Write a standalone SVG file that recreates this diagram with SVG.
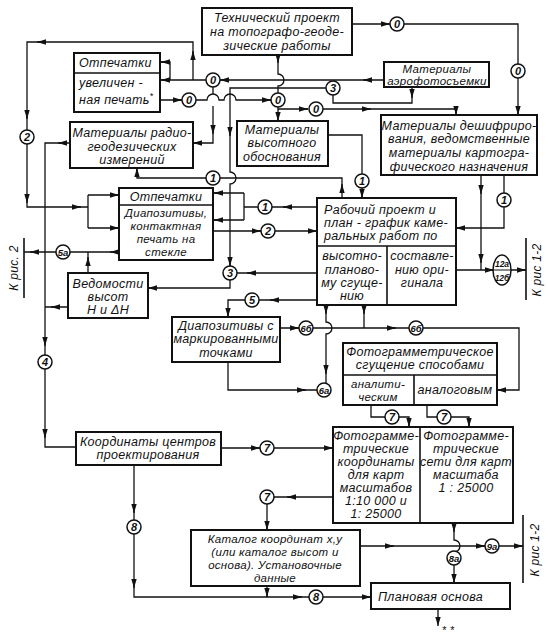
<svg xmlns="http://www.w3.org/2000/svg" width="548" height="641" viewBox="0 0 548 641">
<defs>
<marker id="a" viewBox="0 0 10 6" refX="10" refY="3" markerWidth="9" markerHeight="6" markerUnits="userSpaceOnUse" orient="auto"><path d="M0,0 L10,3 L0,6 z" fill="#111"/></marker>
<style>
.b{fill:#fff;stroke:#111;stroke-width:2}
.d{fill:none;stroke:#111;stroke-width:1.6}
.c{fill:none;stroke:#111;stroke-width:1.3}
.ar{fill:none;stroke:#111;stroke-width:1.3;marker-end:url(#a)}
text{font-family:"Liberation Sans",Arial,sans-serif;font-style:italic;font-size:12.5px;fill:#111;text-anchor:middle;letter-spacing:0.3px}
.l{text-anchor:start}
.s{font-size:11.5px}
.n circle,.n ellipse{fill:#fff;stroke:#111;stroke-width:1.5}
.n text{font-size:11px;font-weight:bold;letter-spacing:0}
.r{font-size:12px}
</style>
</defs>
<rect width="548" height="641" fill="#fff"/>

<g id="connectors">
<path class="c" d="M352,24 L390,24 M404,24 L518,24 L518,64 M518,78 L518,115"/>
<path class="ar" d="M386,24 L390,24"/><path class="ar" d="M518,110 L518,115"/>
<path class="c" d="M278,55 L278,74 A6,6 0 0 1 278,86 L278,93 M278,107 L278,121"/>
<path class="ar" d="M278,58 L278,63"/><path class="ar" d="M278,116 L278,121"/>
<path class="c" d="M384,80 L220,80 M206,80 L170,80 L161,80 M170,80 L170,62 L161,62"/>
<path class="ar" d="M368,80 L363,80"/><path class="ar" d="M225,80 L220,80"/>
<path class="ar" d="M165,80 L161,80"/><path class="ar" d="M165,62 L161,62"/>
<path class="c" d="M193,80 L193,42 L27,42 L27,130 M27,144 L27,207 L88,207 M88,195 L88,228 M88,195 L119,195 M88,228 L119,228"/>
<path class="ar" d="M193,56 L193,51"/><path class="ar" d="M42,42 L37,42"/>
<path class="ar" d="M27,114 L27,119"/><path class="ar" d="M27,198 L27,203"/>
<path class="ar" d="M76,207 L81,207"/><path class="ar" d="M114,195 L119,195"/><path class="ar" d="M114,228 L119,228"/>
<path class="c" d="M213,87 L213,94 M213,106 L213,143 L193,143"/>
<path class="ar" d="M213,129 L213,134"/><path class="ar" d="M198,143 L193,143"/>
<path class="c" d="M160,100 L182,100 M196,100 L207,100 A6,6 0 0 1 219,100 L224,100 A6,6 0 0 1 236,100 L271,100"/>
<path class="ar" d="M177,100 L182,100"/><path class="ar" d="M266,100 L271,100"/>
<path class="c" d="M278,109 L308,109 M323,109 L456,109 L456,115"/>
<path class="ar" d="M303,109 L308,109"/><path class="ar" d="M366,109 L371,109"/><path class="ar" d="M456,110 L456,115"/>
<path class="c" d="M412,87 L412,103 L333,103 L333,95 M326,88 L230,88 L230,172 A6,6 0 0 1 230,184 L230,266"/>
<path class="ar" d="M412,92 L412,98"/><path class="ar" d="M230,130 L230,136"/><path class="ar" d="M230,259 L230,266"/>
<path class="c" d="M342,198 L342,178 L220,178 M206,178 L137,178 L137,168"/>
<path class="ar" d="M342,190 L342,184"/><path class="ar" d="M137,173 L137,168"/>
<path class="c" d="M328,135 L362,135 L362,174 M362,188 L362,198"/>
<path class="ar" d="M362,193 L362,198"/>
<path class="c" d="M317,207 L272,207 M258,207 L244,207 M244,193 L244,220 M244,193 L214,193 M244,220 L214,220"/>
<path class="ar" d="M288,207 L283,207"/><path class="ar" d="M219,193 L214,193"/><path class="ar" d="M219,220 L214,220"/>
<path class="c" d="M213,231 L261,231 M275,231 L317,231"/>
<path class="ar" d="M256,231 L261,231"/><path class="ar" d="M312,231 L317,231"/>
<path class="c" d="M317,273 L237,273 M230,280 L230,288 L148,288"/>
<path class="ar" d="M252,273 L247,273"/><path class="ar" d="M153,288 L148,288"/>
<path class="c" d="M317,300 L259,300 M245,300 L228,300 L228,317"/>
<path class="ar" d="M275,300 L270,300"/><path class="ar" d="M228,312 L228,317"/>
<path class="c" d="M280,328 L299,328 M313,328 L409,328 M423,328 L519,328 L519,390 L497,390 M364,305 L364,328"/>
<path class="ar" d="M294,328 L299,328"/><path class="ar" d="M391,328 L396,328"/><path class="ar" d="M502,390 L497,390"/>
<path class="ar" d="M364,309 L364,314"/>
<path class="c" d="M326,305 L326,322 A6,6 0 0 1 326,334 L326,383"/>
<path class="ar" d="M326,309 L326,314"/><path class="ar" d="M326,368 L326,374"/>
<path class="c" d="M228,362 L228,390 L317,390"/>
<path class="ar" d="M301,390 L306,390"/>
<path class="c" d="M371,405 L371,417 L385,417 M399,417 L409,417 L409,427 M427,405 L427,417 L437,417 M451,417 L469,417 L469,427"/>
<path class="ar" d="M409,422 L409,427"/><path class="ar" d="M469,422 L469,427"/>
<path class="c" d="M70,143 L45,143 L45,355 M45,369 L45,447 L76,447 M68,307 L45,307"/>
<path class="ar" d="M63,143 L58,143"/><path class="ar" d="M45,340 L45,346"/><path class="ar" d="M45,432 L45,438"/>
<path class="ar" d="M56,307 L51,307"/>
<path class="c" d="M119,252 L70,252 M56,252 L24,252 M88,273 L88,252"/>
<path class="ar" d="M115,252 L110,252"/><path class="ar" d="M35,252 L30,252"/><path class="ar" d="M88,263 L88,257"/>
<path class="c" d="M221,448 L260,448 M274,448 L333,448"/>
<path class="ar" d="M255,448 L260,448"/><path class="ar" d="M328,448 L333,448"/>
<path class="c" d="M134,465 L134,520 M134,534 L134,597 L309,597 M323,597 L371,597 M267,586 L267,597"/>
<path class="ar" d="M134,507 L134,513"/><path class="ar" d="M134,582 L134,588"/>
<path class="ar" d="M297,597 L302,597"/><path class="ar" d="M366,597 L371,597"/><path class="ar" d="M267,591 L267,597"/>
<path class="c" d="M333,497 L274,497 M267,504 L267,530"/>
<path class="ar" d="M292,497 L287,497"/><path class="ar" d="M267,525 L267,530"/>
<path class="c" d="M360,546 L485,546 M499,546 L523,546"/>
<path class="ar" d="M389,546 L394,546"/><path class="ar" d="M480,546 L485,546"/><path class="ar" d="M518,546 L523,546"/>
<path class="c" d="M454,523 L454,540 A6,6 0 0 1 454,552 L454,551 M454,565 L454,583"/>
<path class="ar" d="M454,527 L454,532"/><path class="ar" d="M454,578 L454,583"/>
<path class="ar" d="M438,609 L438,626"/>
<path class="c" d="M481,175 L481,270 M504,175 L504,193 M504,207 L504,228 L456,228 M456,270 L494,270 M511,270 L526,270"/>
<path class="ar" d="M481,188 L481,194"/><path class="ar" d="M481,257 L481,263"/>
<path class="ar" d="M461,228 L456,228"/><path class="ar" d="M489,270 L494,270"/><path class="ar" d="M521,270 L526,270"/>
<path class="d" d="M526,238 L526,300 M523,515 L523,583 M24,238 L24,298"/>
</g>

<g id="labels" class="n">
<g id="c0a"><circle cx="397" cy="24" r="7"/><text x="397" y="28">0</text></g>
<g id="c0b"><circle cx="518" cy="71" r="7"/><text x="518" y="75">0</text></g>
<g id="c0c"><circle cx="278" cy="100" r="7"/><text x="278" y="104">0</text></g>
<g id="c0d"><circle cx="213" cy="80" r="7"/><text x="213" y="84">0</text></g>
<g id="c0e"><circle cx="189" cy="100" r="7"/><text x="189" y="104">0</text></g>
<g id="c0f"><circle cx="316" cy="109" r="7"/><text x="316" y="113">0</text></g>
<g id="c3a"><circle cx="333" cy="88" r="7"/><text x="333" y="92">3</text></g>
<g id="c2a"><circle cx="27" cy="137" r="7"/><text x="27" y="141">2</text></g>
<g id="c1a"><circle cx="213" cy="178" r="7"/><text x="213" y="182">1</text></g>
<g id="c1b"><circle cx="362" cy="181" r="7"/><text x="362" y="185">1</text></g>
<g id="c1c"><circle cx="265" cy="207" r="7"/><text x="265" y="211">1</text></g>
<g id="c1d"><circle cx="504" cy="200" r="7"/><text x="504" y="204">1</text></g>
<g id="c2b"><circle cx="268" cy="231" r="7"/><text x="268" y="235">2</text></g>
<g id="c3b"><circle cx="230" cy="273" r="7"/><text x="230" y="277">3</text></g>
<g id="c5"><circle cx="252" cy="300" r="7"/><text x="252" y="304">5</text></g>
<g id="c5a"><circle cx="63" cy="252" r="7"/><text x="63" y="256" style="font-size:9.5px">5а</text></g>
<g id="c6b1"><circle cx="306" cy="328" r="7"/><text x="306" y="332" style="font-size:9.5px">6б</text></g>
<g id="c6b2"><circle cx="416" cy="328" r="7"/><text x="416" y="332" style="font-size:9.5px">6б</text></g>
<g id="c6a"><circle cx="324" cy="390" r="7"/><text x="324" y="394" style="font-size:9.5px">6а</text></g>
<g id="c4"><circle cx="45" cy="362" r="7"/><text x="45" y="366">4</text></g>
<g id="c7a"><circle cx="392" cy="417" r="7"/><text x="392" y="421">7</text></g>
<g id="c7b"><circle cx="444" cy="417" r="7"/><text x="444" y="421">7</text></g>
<g id="c7c"><circle cx="267" cy="448" r="7"/><text x="267" y="452">7</text></g>
<g id="c7d"><circle cx="267" cy="497" r="7"/><text x="267" y="501">7</text></g>
<g id="c8a"><circle cx="134" cy="527" r="7"/><text x="134" y="531">8</text></g>
<g id="c8b"><circle cx="316" cy="597" r="7"/><text x="316" y="601">8</text></g>
<g id="c8c"><circle cx="454" cy="558" r="7"/><text x="454" y="562" style="font-size:9.5px">8а</text></g>
<g id="c9a"><circle cx="492" cy="546" r="7"/><text x="492" y="550" style="font-size:9.5px">9а</text></g>
<g id="c12"><ellipse cx="502" cy="270" rx="9" ry="15"/><path d="M493,270 L511,270" stroke="#111" stroke-width="1"/><text x="502" y="267" style="font-size:8.5px">12а</text><text x="502" y="281" style="font-size:8.5px">12б</text></g>
</g>

<g id="n-tech"><rect class="b" x="202" y="8" width="150" height="47"/>
<text x="277" y="22">Технический проект</text><text x="277" y="36">на топографо-геоде-</text><text x="277" y="50">зические работы</text></g>

<g id="n-prints1"><rect class="b" x="74" y="53" width="86" height="59"/><path class="d" d="M74,73 L160,73"/>
<text class="l" x="79" y="67">Отпечатки</text><text class="l" x="79" y="87">увеличен -</text><text class="l" x="79" y="104">ная печать<tspan dy="-5" style="font-size:9px">*</tspan></text></g>

<g id="n-aerial"><rect class="b" x="384" y="62" width="105" height="25"/>
<text x="437" y="73" style="font-size:11.5px">Материалы</text><text x="437" y="85" style="font-size:11.5px">аэрофотосъемки</text></g>

<g id="n-radio"><rect class="b" x="70" y="122" width="123" height="46"/>
<text x="132" y="137">Материалы радио-</text><text x="132" y="151">геодезических</text><text x="132" y="164">измерений</text></g>

<g id="n-height"><rect class="b" x="237" y="121" width="91" height="45"/>
<text x="282" y="134">Материалы</text><text x="282" y="147">высотного</text><text x="282" y="161">обоснования</text></g>

<g id="n-decipher"><rect class="b" x="381" y="115" width="156" height="60"/>
<text x="459" y="130">Материалы дешифриро-</text><text x="459" y="143">вания, ведомственные</text><text x="459" y="157">материалы картогра-</text><text x="459" y="171">фического назначения</text></g>

<g id="n-prints2"><rect class="b" x="119" y="188" width="94" height="72"/><path class="d" d="M119,205 L213,205"/>
<text x="166" y="201">Отпечатки</text><text class="s" x="166" y="217">Диапозитивы,</text><text class="s" x="166" y="230">контактная</text><text class="s" x="166" y="243">печать на</text><text class="s" x="166" y="256">стекле</text></g>

<g id="n-work"><rect class="b" x="317" y="198" width="139" height="107"/><path class="d" d="M317,246 L456,246 M387,246 L387,305"/>
<text class="l" x="324" y="214">Рабочий проект и</text><text class="l" x="324" y="227">план - график каме-</text><text class="l" x="324" y="240">ральных работ по</text>
<text x="352" y="260">высотно-</text><text x="352" y="274">планово-</text><text x="352" y="287">му сгуще-</text><text x="352" y="300">нию</text>
<text x="422" y="260">составле-</text><text x="422" y="274">нию ори-</text><text x="422" y="287">гинала</text></g>

<g id="n-heights"><rect class="b" x="68" y="273" width="80" height="45"/>
<text x="108" y="288">Ведомости</text><text x="108" y="301">высот</text><text x="108" y="314">H и ΔH</text></g>

<g id="n-marked"><rect class="b" x="172" y="317" width="108" height="45"/>
<text x="226" y="330">Диапозитивы с</text><text x="226" y="343">маркированными</text><text x="226" y="357">точками</text></g>

<g id="n-photogr"><rect class="b" x="343" y="343" width="154" height="62"/><path class="d" d="M343,375 L497,375 M414,375 L414,405"/>
<text x="420" y="356">Фотограмметрическое</text><text x="420" y="369">сгущение способами</text>
<text class="s" x="378" y="388">аналити-</text><text class="s" x="378" y="401">ческим</text><text x="455" y="394">аналоговым</text></g>

<g id="n-centers"><rect class="b" x="76" y="432" width="145" height="33"/>
<text x="148" y="446">Координаты центров</text><text x="148" y="459">проектирования</text></g>

<g id="n-coords"><rect class="b" x="333" y="427" width="180" height="96"/><path class="d" d="M420,427 L420,523"/>
<text x="376" y="440">Фотограмме-</text><text x="376" y="453">трические</text><text x="376" y="466">координаты</text><text x="376" y="479">для карт</text><text x="376" y="492">масштабов</text><text x="376" y="505">1:10 000 и</text><text x="376" y="518">1: 25000</text>
<text x="466" y="440">Фотограмме-</text><text x="466" y="453">трические</text><text x="466" y="466">сети для карт</text><text x="466" y="479">масштаба</text><text x="466" y="492">1 : 25000</text></g>

<g id="n-catalog"><rect class="b" x="191" y="530" width="169" height="56"/>
<text class="s" x="275" y="543">Каталог координат x,y</text><text class="s" x="275" y="556">(или каталог высот и</text><text class="s" x="275" y="569">основа). Установочные</text><text class="s" x="275" y="582">данные</text></g>

<g id="n-plan"><rect class="b" x="371" y="583" width="139" height="26"/>
<text class="l" x="378" y="601">Плановая основа</text></g>

<text x="448" y="634" style="font-size:11px">* *</text>
<text class="r" transform="translate(541,270) rotate(-90)">К рис 1-2</text>
<text class="r" transform="translate(539,550) rotate(-90)">К рис 1-2</text>
<text class="r" transform="translate(18,268) rotate(-90)">К рис. 2</text>
</svg>
